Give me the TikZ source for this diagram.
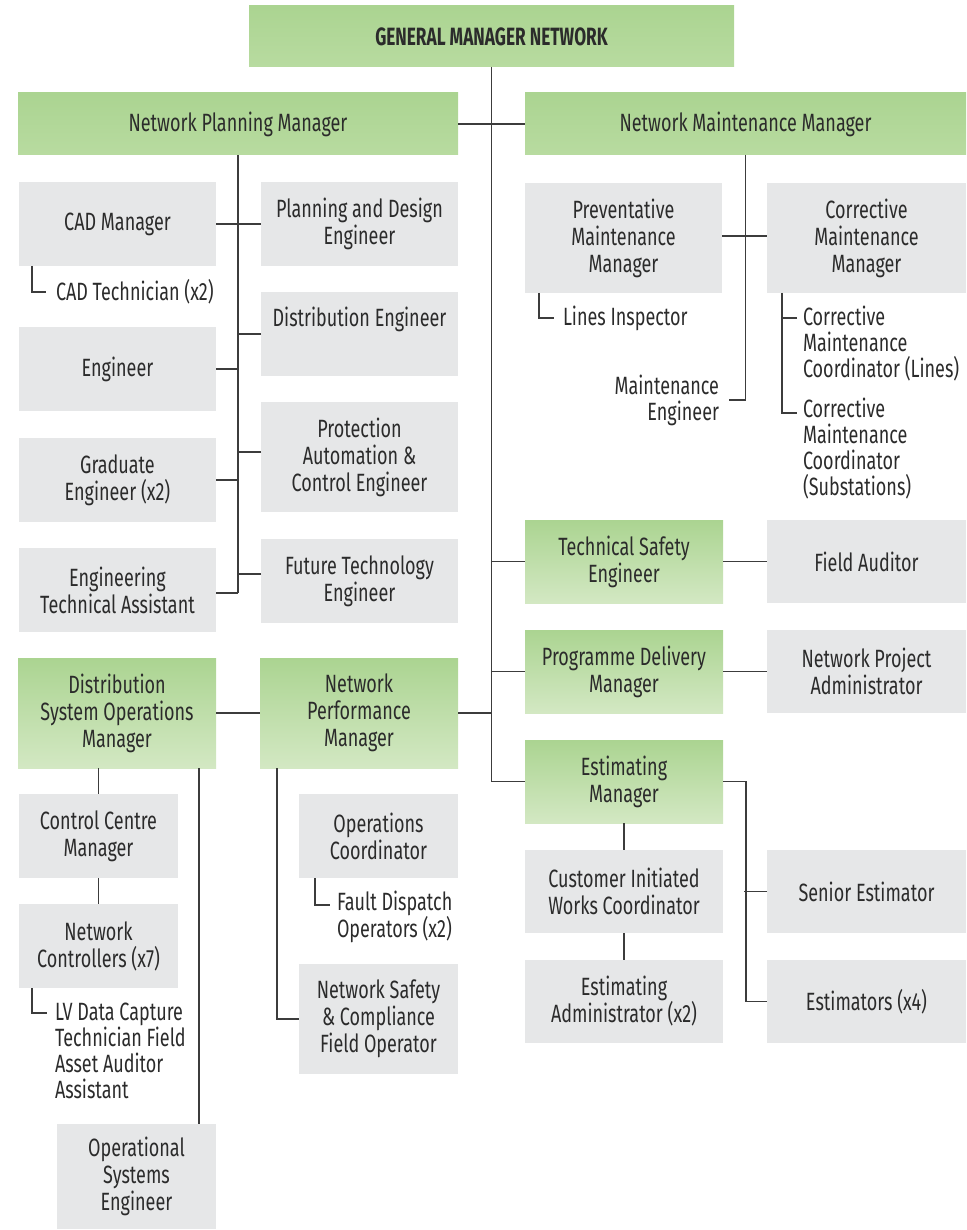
\documentclass[tikz,border=0pt]{standalone}
\usepackage{fontspec}
\setmainfont{Fira Sans}[FakeStretch=0.72]
\newfontfamily\headfont{Fira Sans}[FakeStretch=0.69]
\definecolor{ink}{HTML}{2B2B2B}
\definecolor{wire}{HTML}{3C3C3C}
\definecolor{greyfill}{HTML}{E6E7E8}
\definecolor{greentop}{HTML}{ABD491}
\definecolor{greenlow}{HTML}{D3E8C3}
\definecolor{greenmid}{HTML}{B8DBA0}
% box from its corners (x1,y1)-(x2,y2) in a y-down frame
\newcommand\orgbox[7]{%
  \pgfmathsetmacro\bcx{(#3+#5)/2}\pgfmathsetmacro\bcy{(#4+#6)/2}%
  \pgfmathsetmacro\bw{#5-#3}\pgfmathsetmacro\bh{#6-#4}%
  \node[#1, minimum width=\bw pt, minimum height=\bh pt] (#2) at (\bcx,\bcy) {#7};}
\begin{document}
\begin{tikzpicture}[x=1pt,y=-1pt,
  txt/.style={font=\fontsize{25}{27}\selectfont, text=ink, align=center, inner sep=0pt, outer sep=0pt},
  greybox/.style={txt, fill=greyfill},
  greenbox/.style={txt, top color=greentop, bottom color=greenlow},
  headbox/.style={txt, top color=greentop, bottom color=greenmid},
  lbl/.style={font=\fontsize{25}{26}\selectfont, text=ink, inner sep=0pt, outer sep=0pt},
  wires/.style={draw=wire, line width=1.8pt}]
\useasboundingbox (0,0) rectangle (966,1230);

% ---- head and second level
\orgbox{headbox}{gm}{249}{6}{734}{67}{\headfont\bfseries GENERAL MANAGER NETWORK}
\orgbox{headbox}{npm}{18}{93}{458}{155}{Network Planning Manager}
\orgbox{headbox}{nmm}{525}{93}{966}{155}{Network Maintenance Manager}

% ---- planning team
\orgbox{greybox}{cad}{19}{182}{216}{266}{CAD Manager}
\orgbox{greybox}{pde}{261}{182}{458}{266}{Planning and Design\\Engineer}
\orgbox{greybox}{dist}{261}{292}{458}{376}{Distribution Engineer\\\strut}
\orgbox{greybox}{eng}{19}{327}{216}{411}{Engineer}
\orgbox{greybox}{pace}{261}{402}{458}{512}{Protection\\Automation \&\\Control Engineer}
\orgbox{greybox}{grad}{19}{438}{216}{522}{Graduate\\Engineer (x2)}
\orgbox{greybox}{fte}{261}{539}{458}{623}{Future Technology\\Engineer}
\orgbox{greybox}{eta}{19}{548}{216}{632}{Engineering\\Technical Assistant}
\node[lbl, anchor=west] (ctech) at (56,292) {CAD Technician (x2)};
\coordinate (ctechL) at (46,292);

% ---- maintenance team
\orgbox{greybox}{pmm}{525}{183}{722}{293}{Preventative\\Maintenance\\Manager}
\orgbox{greybox}{cmm}{767}{183}{966}{293}{Corrective\\Maintenance\\Manager}
\node[lbl, anchor=west] (li) at (563,318) {Lines Inspector};
\coordinate (liL) at (554,318);
\node[lbl, anchor=east, align=right] (me) at (719,400) {Maintenance\\Engineer};
\node[lbl, anchor=west, align=left] (cmc1) at (803,344) {Corrective\\Maintenance\\Coordinator (Lines)};
\node[lbl, anchor=west, align=left] (cmc2) at (803,449) {Corrective\\Maintenance\\Coordinator\\(Substations)};
\coordinate (cmc1L) at (797,318);
\coordinate (cmc2L) at (797,413);

% ---- direct reports on the right
\orgbox{greenbox}{tse}{525}{520}{723}{603}{Technical Safety\\Engineer}
\orgbox{greybox}{fa}{767}{520}{966}{603}{Field Auditor}
\orgbox{greenbox}{pdm}{525}{630}{723}{713}{Programme Delivery\\Manager}
\orgbox{greybox}{npa}{767}{630}{966}{713}{Network Project\\Administrator}
\orgbox{greenbox}{est}{525}{740}{723}{823}{Estimating\\Manager}
\orgbox{greybox}{ciwc}{525}{850}{723}{933}{Customer Initiated\\Works Coordinator}
\orgbox{greybox}{ea}{525}{960}{723}{1043}{Estimating\\Administrator (x2)}
\orgbox{greybox}{se}{767}{850}{966}{933}{Senior Estimator}
\orgbox{greybox}{ests}{767}{960}{966}{1043}{Estimators (x4)}

% ---- operations and performance
\orgbox{greenbox}{dsom}{18}{658}{216}{768}{Distribution\\System Operations\\Manager}
\orgbox{greenbox}{nperf}{260}{658}{458}{768}{Network\\Performance\\Manager}
\orgbox{greybox}{ccm}{19}{794}{178}{878}{Control Centre\\Manager}
\orgbox{greybox}{nc}{19}{904}{178}{988}{Network\\Controllers (x7)}
\orgbox{greybox}{ose}{57}{1124}{216}{1229}{Operational\\Systems\\Engineer}
\node[lbl, anchor=west, align=left] (lv) at (55,1051) {LV Data Capture\\Technician Field\\Asset Auditor\\Assistant};
\coordinate (lvL) at (47,1013);
\orgbox{greybox}{oc}{299}{794}{458}{878}{Operations\\Coordinator}
\orgbox{greybox}{nscfo}{299}{964}{458}{1074}{Network Safety\\\& Compliance\\Field Operator}
\node[lbl, anchor=west, align=left] (fd) at (337,917) {Fault Dispatch\\Operators (x2)};
\coordinate (fdL) at (330,905);

% ---- connectors
\begin{scope}[wires]
  % main trunk
  \draw (gm.south) -- (gm.south |- est.west) -- (est.west);
  \draw (npm.east) -- (nmm.west);
  \draw (tse.west -| gm.south) -- (tse.west);
  \draw (tse.east) -- (fa.west);
  \draw (pdm.west -| gm.south) -- (pdm.west);
  \draw (pdm.east) -- (npa.west);
  \draw (dsom.east) -- (nperf.west);
  \draw (nperf.east) -- (nperf.east -| gm.south);
  % planning team
  \draw (npm.south) -- ([yshift=-3pt]npm.south |- eta.east);
  \draw (cad.east) -- (pde.west);
  \draw (eng.east) -- (eng.east -| npm.south);
  \draw (dist.west) -- (dist.west -| npm.south);
  \draw ([yshift=5pt]pace.west) -- ([yshift=5pt]pace.west -| npm.south);
  \draw (grad.east) -- (grad.east -| npm.south);
  \draw ([yshift=7pt]fte.west) -- ([yshift=7pt]fte.west -| npm.south);
  \draw ([yshift=-3pt]eta.east) -- ([yshift=-3pt]eta.east -| npm.south);
  \draw ([xshift=13pt]cad.south west) |- (ctechL);
  % maintenance team
  \draw (nmm.south) |- ([xshift=10pt]me.east);
  \draw ([yshift=2pt]pmm.east) -- ([yshift=2pt]cmm.west);
  \draw ([xshift=14pt]pmm.south west) |- (liL);
  \draw ([xshift=15pt]cmm.south west) |- (cmc2L);
  \draw (cmc1L) -- ++(-15,0);
  % estimating
  \draw (est.east) -- ([xshift=23pt]est.east) |- (ests.west);
  \draw (se.west) -- ++(-23,0);
  \draw (est.south) -- (ciwc.north);
  \draw (ciwc.south) -- (ea.north);
  % operations
  \draw (dsom.south -| ccm.north) -- (ccm.north);
  \draw (ccm.south) -- (nc.north);
  \draw ([xshift=13pt]nc.south west) |- (lvL);
  \draw ([xshift=-17pt]dsom.south east) -- ([xshift=-17pt]ose.north east);
  \draw ([xshift=17pt]nperf.south west) |- (nscfo.west);
  \draw ([xshift=16pt]oc.south west) |- (fdL);
\end{scope}
\end{tikzpicture}
\end{document}
